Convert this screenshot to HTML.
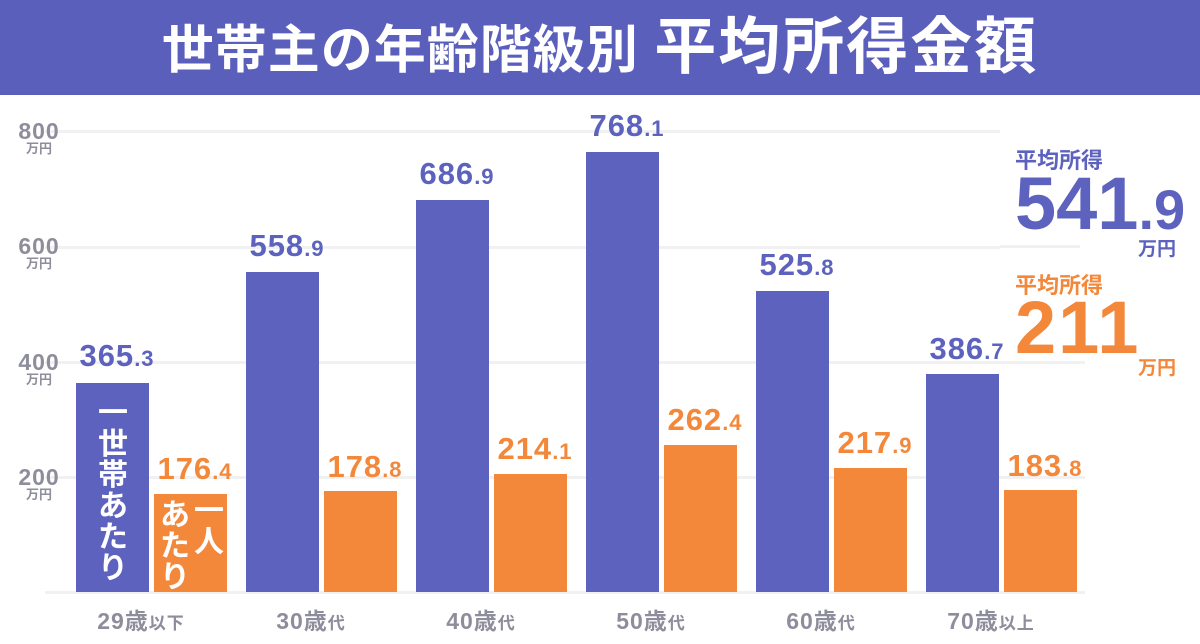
<!DOCTYPE html>
<html><head><meta charset="utf-8"><style>
body{margin:0;width:1200px;height:644px;background:#fff;position:relative;overflow:hidden;font-family:"Liberation Sans","Noto Sans CJK JP",sans-serif;font-weight:bold}
.a{position:absolute}
.hdr{left:0;top:0;width:1200px;height:95px;background:#5b5fbc;color:#fff;text-align:center;line-height:95px;white-space:nowrap}
.g{height:3px;background:#f1f1f1;left:45px;width:1040px}
.yl{color:#8e8d9c;font-size:23px;width:62px;text-align:center;line-height:22px;letter-spacing:1px}
.yl small{display:block;font-size:13px;line-height:13px;letter-spacing:0}
.b{background:#5c62bd}.o{background:#f3873a}
.v{font-size:31px;text-align:center;width:130px;white-space:nowrap;letter-spacing:1px}
.v span{font-size:22px}
.vb{color:#5c62bd}.vo{color:#f3873a}
.x{color:#8e8d9c;font-size:23px;width:170px;text-align:center;top:602px;letter-spacing:1px}
.x span{font-size:17px}
.vt{color:#fff;font-size:30px;line-height:31px;text-align:center}
</style></head><body>
<div class="a hdr"><span style="font-size:52px;letter-spacing:1px">世帯主の年齢階級別 </span><span style="font-size:62px;letter-spacing:2px">平均所得金額</span></div>

<div class="a g" style="top:130px;width:955px"></div>
<div class="a g" style="top:246px;width:955px"></div>
<div class="a g" style="top:361px"></div>
<div class="a g" style="top:476px"></div>
<div class="a g" style="top:591px"></div>
<div class="a g" style="top:245px;left:1000px;width:80px"></div>

<div class="a yl" style="left:8px;top:120px">800<small>万円</small></div>
<div class="a yl" style="left:8px;top:235px">600<small>万円</small></div>
<div class="a yl" style="left:8px;top:351px">400<small>万円</small></div>
<div class="a yl" style="left:8px;top:466px">200<small>万円</small></div>

<div class="a b" style="left:76px;top:383px;width:73px;height:209px"></div>
<div class="a o" style="left:154px;top:494px;width:73px;height:98px"></div>
<div class="a b" style="left:246px;top:272px;width:73px;height:320px"></div>
<div class="a o" style="left:324px;top:491px;width:73px;height:101px"></div>
<div class="a b" style="left:416px;top:200px;width:73px;height:392px"></div>
<div class="a o" style="left:494px;top:474px;width:73px;height:118px"></div>
<div class="a b" style="left:586px;top:152px;width:73px;height:440px"></div>
<div class="a o" style="left:664px;top:445px;width:73px;height:147px"></div>
<div class="a b" style="left:756px;top:291px;width:73px;height:301px"></div>
<div class="a o" style="left:834px;top:468px;width:73px;height:124px"></div>
<div class="a b" style="left:926px;top:374px;width:73px;height:218px"></div>
<div class="a o" style="left:1004px;top:490px;width:73px;height:102px"></div>

<div class="a v vb" style="left:52px;top:338px">365<span>.3</span></div>
<div class="a v vo" style="left:130px;top:451px">176<span>.4</span></div>
<div class="a v vb" style="left:222px;top:228px">558<span>.9</span></div>
<div class="a v vo" style="left:300px;top:449px">178<span>.8</span></div>
<div class="a v vb" style="left:392px;top:156px">686<span>.9</span></div>
<div class="a v vo" style="left:470px;top:431px">214<span>.1</span></div>
<div class="a v vb" style="left:562px;top:108px">768<span>.1</span></div>
<div class="a v vo" style="left:640px;top:402px">262<span>.4</span></div>
<div class="a v vb" style="left:732px;top:247px">525<span>.8</span></div>
<div class="a v vo" style="left:810px;top:425px">217<span>.9</span></div>
<div class="a v vb" style="left:902px;top:331px">386<span>.7</span></div>
<div class="a v vo" style="left:980px;top:448px">183<span>.8</span></div>

<div class="a vt" style="left:96px;top:398px;width:34px">一<br>世<br>帯<br>あ<br>た<br>り</div>
<div class="a vt" style="left:193px;top:496px;width:32px">一<br>人</div>
<div class="a vt" style="left:159px;top:500px;width:32px">あ<br>た<br>り</div>

<div class="a x" style="left:56px">29歳<span>以下</span></div>
<div class="a x" style="left:226px">30歳<span>代</span></div>
<div class="a x" style="left:396px">40歳<span>代</span></div>
<div class="a x" style="left:566px">50歳<span>代</span></div>
<div class="a x" style="left:736px">60歳<span>代</span></div>
<div class="a x" style="left:906px">70歳<span>以上</span></div>

<div class="a" style="left:1015px;top:143px;font-size:22px;color:#5c62bd">平均所得</div>
<div class="a" style="left:1015px;top:166px;font-size:74px;line-height:76px;color:#5c62bd;white-space:nowrap">541<span style="font-size:56px">.9</span></div>
<div class="a" style="left:1138px;top:234px;font-size:19px;color:#5c62bd">万円</div>
<div class="a" style="left:1015px;top:268px;font-size:22px;color:#f3873a">平均所得</div>
<div class="a" style="left:1015px;top:290px;font-size:74px;line-height:76px;color:#f3873a;letter-spacing:2px">211</div>
<div class="a" style="left:1138px;top:353px;font-size:19px;color:#f3873a">万円</div>
</body></html>
